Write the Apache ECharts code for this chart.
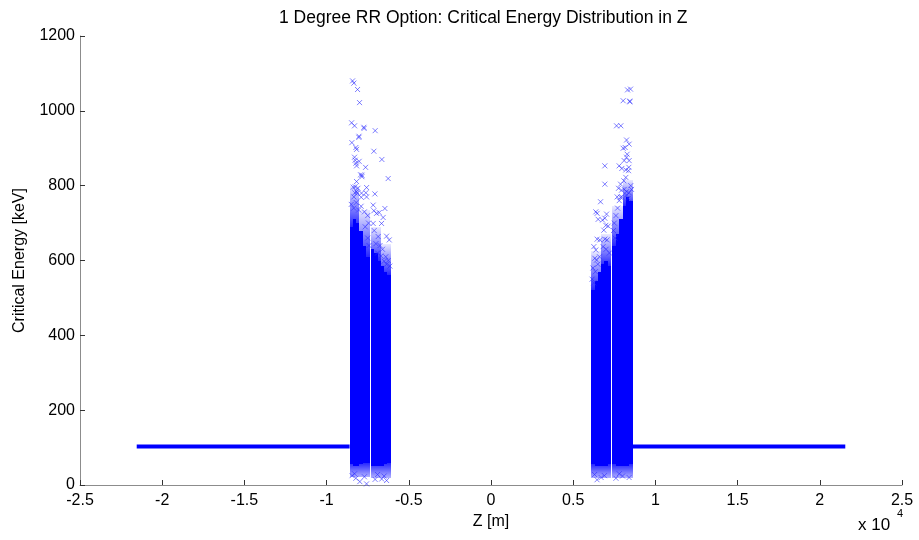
<!DOCTYPE html>
<html><head><meta charset="utf-8">
<script src="https://cdn.jsdelivr.net/npm/echarts@6/dist/echarts.min.js"></script>
<style>html,body{margin:0;padding:0;background:#fff}#c{width:919px;height:540px}</style>
</head><body><div id="c"></div>
<script>
// ---- data ----
const titleText = '1 Degree RR Option: Critical Energy Distribution in Z';
const xName = 'Z [m]';
const yName = 'Critical Energy [keV]';
const xMin = -25000, xMax = 25000, xStep = 5000;
const yMin = 0, yMax = 1200, yStep = 200;

// flat bands (dense points at constant energy): [z, E]
const bandLeft = [[-21550, 103], [-8600, 103]];
const bandRight = [[8620, 103], [21550, 103]];

// solid dense cores: [zStart, zEnd, Ebottom, Etop]
const coreLL = [[-8600,-8400,55,690],[-8400,-8200,50,710],[-8200,-8000,50,700],[-8000,-7800,55,680],[-7800,-7600,60,640],[-7600,-7380,60,610]];
const coreLR = [[-7320,-7100,50,630],[-7100,-6900,50,620],[-6900,-6700,50,600],[-6700,-6500,50,585],[-6500,-6300,55,570],[-6300,-6100,60,560]];
const coreRL = [[6100,6300,55,520],[6300,6500,50,545],[6500,6700,50,570],[6700,6900,50,590],[6900,7100,50,600],[7100,7320,55,585]];
const coreRR = [[7380,7600,55,640],[7600,7800,50,670],[7800,8000,50,710],[8000,8200,50,745],[8200,8400,50,770],[8400,8610,55,760]];

// thinning zones above the cores: [zStart, zEnd, Elow, Ehigh]
const fringeTop = [
  [-8600,-8000,690,800],[-8000,-7380,610,735],[-7320,-6700,600,690],[-6700,-6100,560,645],
  [6100,6700,520,625],[6700,7320,585,670],[7380,8000,640,745],[8000,8610,745,815]
];
// thinning zones below the cores: [zStart, zEnd, Elow, Ehigh]
const fringeBottom = [
  [-8600,-7380,22,60],[-7320,-6100,20,60],[6100,7320,20,55],[7380,8610,20,55]
];

// individual sparse points: [z, E]
const sparseLeft = [
 [-8420,1080],[-8340,1074],[-8117,1057],[-7995,1022],[-8480,968],[-8300,960],[-7733,956],[-7720,953],
 [-7046,947],[-8037,929],[-8030,932],[-8463,915],[-8220,902],[-8177,897],[-7125,892],[-6638,870],
 [-8300,876],[-8263,868],[-8220,860],[-8177,853],[-8020,865],[-7630,849],[-7935,829],[-7855,824],
 [-7850,828],[-6255,819],[-8177,811],[-8263,797],[-8383,796],[-8097,793],[-7568,795],[-8280,781],
 [-8140,780],[-7610,781],[-7063,778],[-8340,770],[-7895,769],[-7568,770],[-7875,780],[-8177,784],
 [-7167,748],[-7125,733],[-6455,739],[-6960,726],[-6800,728],[-6560,715],[-7167,699],[-6657,699],
 [-7105,680],[-6353,665],[-6190,655],[-6863,664],[-7000,645],[-6750,640],[-6900,620],[-6600,630],
 [-6400,610],[-6250,600],[-6700,612],[-6350,590],[-6150,585],[-6500,598],
 [-8500,750],[-8350,740],[-8200,755],[-8050,735],[-7900,745],[-7700,730],[-7500,720],[-7450,700],
 [-7650,690],[-7500,660],[-7420,640],
 [-8220,18],[-7980,9],[-7570,3],[-8450,25],[-8300,30],[-7700,22],
 [-7050,15],[-6650,16],[-6350,12],[-6500,24],[-6900,28]
];
const sparseRight = [
 [8305,1056],[8487,1058],[8038,1027],[8445,1024],[8440,1026],[7636,960],[7897,960],[8245,922],
 [8403,911],[8038,900],[8160,902],[8282,884],[8245,876],[8100,867],[8403,867],[6924,853],
 [7795,853],[7958,846],[8384,849],[8202,842],[8366,840],[8202,822],[8080,813],[7880,804],
 [6924,804],[7757,793],[7940,788],[8245,784],[8403,781],[7672,770],[7880,769],[8245,775],[8342,766],
 [6663,757],[6377,730],[6455,726],[7030,724],[6924,713],[6785,708],[6518,710],[6985,694],
 [7127,692],[6863,681],[6455,657],[6620,655],[6924,657],[7063,655],[6255,637],[6377,628],
 [6820,637],[6316,606],[6420,601],[6200,580],[6350,570],[6500,590],[6150,550],[6250,540],
 [6600,610],[7200,620],[7000,630],
 [7500,700],[7450,680],[7600,720],[7700,740],[7550,660],[7800,760],[7950,770],[8550,790],
 [8500,800],[8100,790],
 [6450,14],[6700,20],[6300,28],[6900,25],[7600,18],[8000,24],[8400,20],[7800,30]
];

// ---- chart ----
const BLUE = '#0000ff';
const FONT = '"Liberation Sans", Arial, Helvetica, sans-serif';
const AXIS_GREY = '#8c8c8c';

function rectShape(api) {
  const p0 = api.coord([api.value(0), api.value(3)]);
  const p1 = api.coord([api.value(1), api.value(2)]);
  const x0 = Math.round(p0[0]), x1 = Math.round(p1[0]);
  const y0 = Math.round(p0[1]), y1 = Math.round(p1[1]);
  return { x: x0, y: y0, width: x1 - x0, height: y1 - y0 };
}
function coreItem(params, api) {
  return { type: 'rect', shape: rectShape(api), style: { fill: BLUE } };
}
function fringeItem(fadeUp, weakAlpha) {
  return function (params, api) {
    const strong = 'rgba(0,0,255,0.85)', weak = 'rgba(0,0,255,' + weakAlpha + ')';
    return {
      type: 'rect', shape: rectShape(api),
      style: { fill: new echarts.graphic.LinearGradient(0, 0, 0, 1, [
        { offset: 0, color: fadeUp ? weak : strong },
        { offset: 1, color: fadeUp ? strong : weak }
      ]) }
    };
  };
}

const xSymbol = 'path://M0,0L10,10M0,10L10,0';
function scatterSeries(data) {
  return {
    type: 'scatter', data: data, symbol: xSymbol, symbolSize: 5,
    itemStyle: { color: 'rgba(0,0,255,0)', borderColor: 'rgba(40,40,255,0.75)', borderWidth: 1 },
    silent: true, animation: false
  };
}
function customSeries(data, renderItem) {
  return { type: 'custom', data: data, renderItem: renderItem, silent: true, animation: false,
           encode: { x: [0, 1], y: [2, 3] } };
}
function bandSeries(data) {
  return { type: 'line', data: data, symbol: 'none', silent: true, animation: false,
           lineStyle: { color: BLUE, width: 4 } };
}

const chart = echarts.init(document.getElementById('c'), null, { renderer: 'canvas' });
chart.setOption({
  backgroundColor: '#fff',
  animation: false,
  title: {
    text: titleText, left: 274, top: 4,
    textStyle: { fontFamily: FONT, fontSize: 17.5, fontWeight: 'normal', color: '#000' }
  },
  grid: { left: 80, right: 17, top: 36, bottom: 55 },
  xAxis: {
    type: 'value', min: xMin, max: xMax, interval: xStep,
    axisLine: { onZero: false, lineStyle: { color: AXIS_GREY, width: 1 } },
    axisTick: { inside: true, length: 5, lineStyle: { color: '#333' } },
    splitLine: { show: false },
    axisLabel: { color: '#000', fontFamily: FONT, fontSize: 16, margin: 8,
                 formatter: v => String(v / 10000) },
    name: xName, nameLocation: 'middle', nameGap: 28,
    nameTextStyle: { color: '#000', fontFamily: FONT, fontSize: 16 }
  },
  yAxis: {
    type: 'value', min: yMin, max: yMax, interval: yStep,
    axisLine: { show: true, onZero: false, lineStyle: { color: AXIS_GREY, width: 1 } },
    axisTick: { show: true, inside: true, length: 5, lineStyle: { color: '#333' } },
    splitLine: { show: false },
    axisLabel: { color: '#000', fontFamily: FONT, fontSize: 16, margin: 5,
                 formatter: v => String(v) },
    name: yName, nameLocation: 'middle', nameGap: 52,
    nameTextStyle: { color: '#000', fontFamily: FONT, fontSize: 16 }
  },
  graphic: [
    { type: 'text', left: 858, top: 517,
      style: { text: 'x 10', fontFamily: FONT, fontSize: 17, fill: '#000' } },
    { type: 'text', left: 897, top: 508,
      style: { text: '4', fontFamily: FONT, fontSize: 11, fill: '#000' } }
  ],
  series: [
    customSeries(fringeTop, fringeItem(true, 0.08)),
    customSeries(fringeBottom, fringeItem(false, 0.3)),
    bandSeries(bandLeft), bandSeries(bandRight),
    customSeries(coreLL, coreItem), customSeries(coreLR, coreItem),
    customSeries(coreRL, coreItem), customSeries(coreRR, coreItem),
    scatterSeries(sparseLeft), scatterSeries(sparseRight)
  ]
});
</script>
</body></html>
